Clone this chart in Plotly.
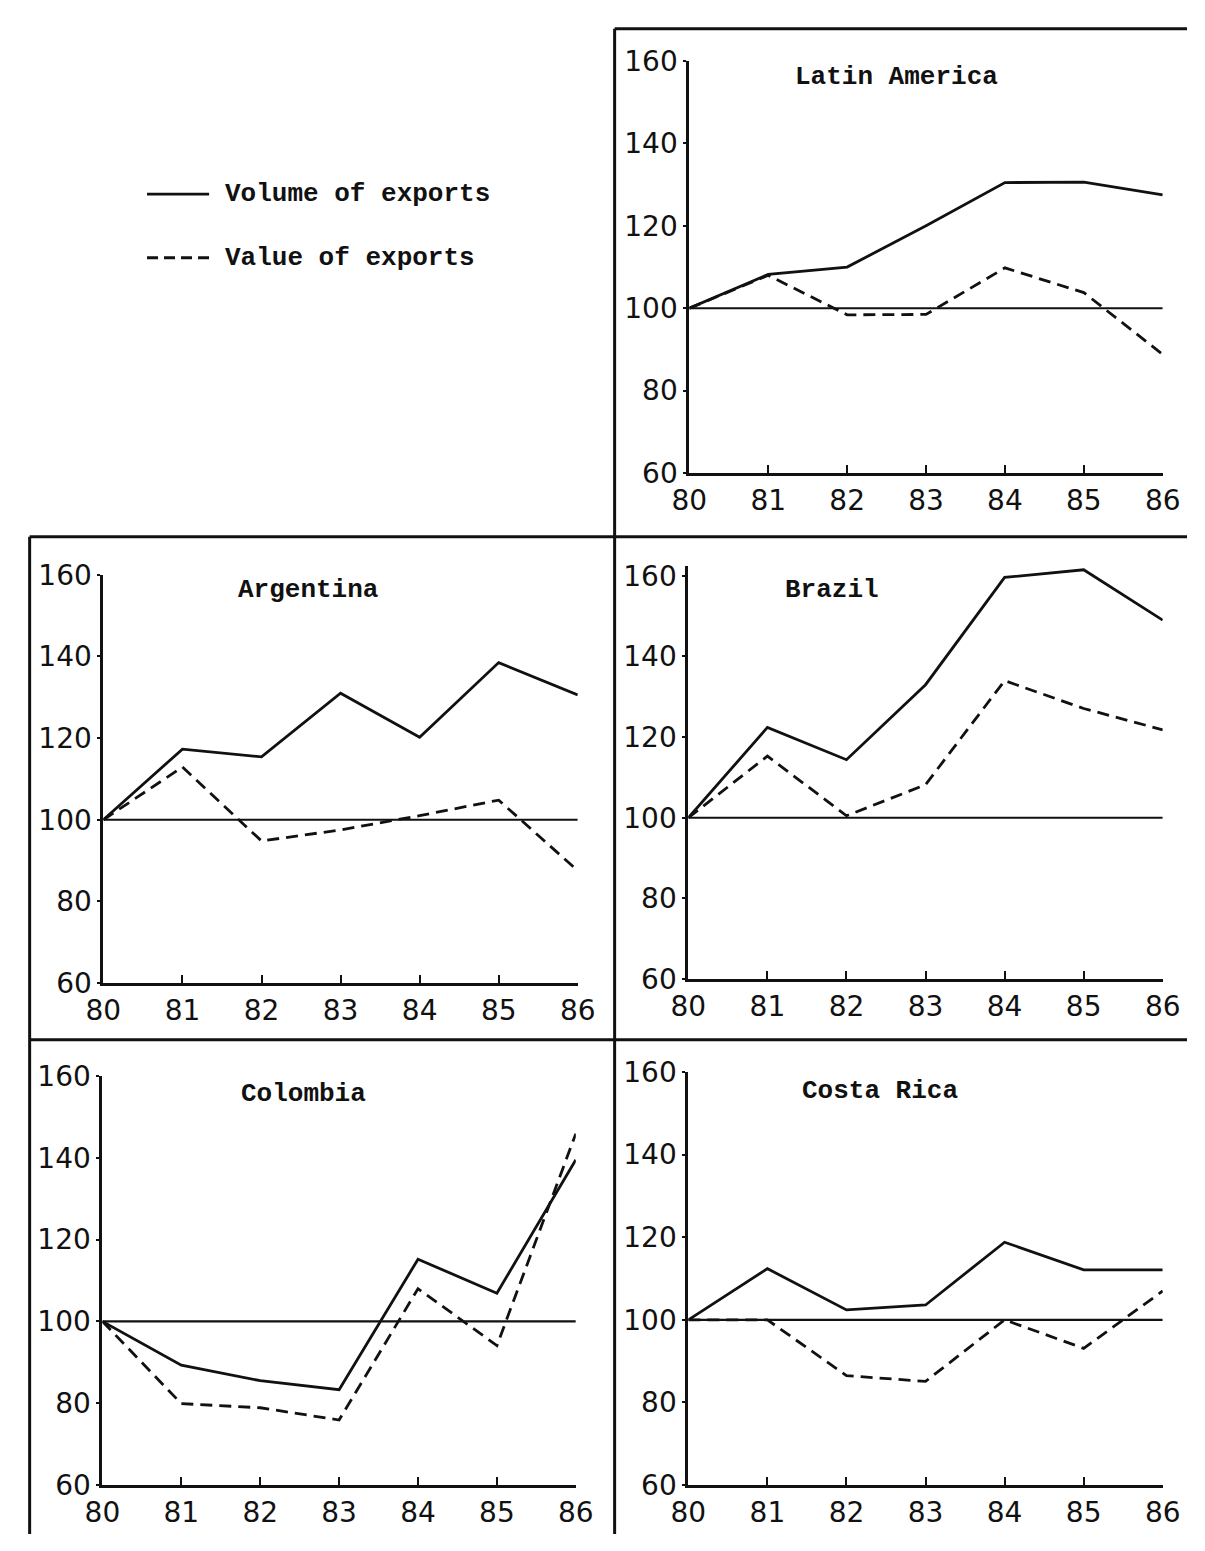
import plotly.graph_objects as go

# Export indices, 1980 = 100
years = [80, 81, 82, 83, 84, 85, 86]
year_labels = ["80", "81", "82", "83", "84", "85", "86"]
index_ticks = [60, 80, 100, 120, 140, 160]
index_labels = ["60", "80", "100", "120", "140", "160"]
base_index = 100

latin_america_volume = [100, 108.2, 110.0, 120.0, 130.5, 130.6, 127.5]
latin_america_value = [100, 108.0, 98.4, 98.5, 109.8, 103.8, 88.8]
argentina_volume = [100, 117.3, 115.4, 131.0, 120.2, 138.5, 130.6]
argentina_value = [100, 112.9, 94.8, 97.5, 101.0, 104.8, 87.5]
brazil_volume = [100, 122.4, 114.4, 133.0, 159.6, 161.5, 149.0]
brazil_value = [100, 115.3, 100.5, 108.2, 134.0, 127.1, 121.8]
colombia_volume = [100, 89.3, 85.5, 83.3, 115.2, 106.9, 139.5]
colombia_value = [100, 79.9, 78.9, 75.9, 108.0, 94.1, 145.9]
costa_rica_volume = [100, 112.4, 102.4, 103.6, 118.8, 112.1, 112.1]
costa_rica_value = [100, 100.0, 86.5, 85.1, 100.0, 93.1, 107.0]

legend_labels = ["Volume of exports", "Value of exports"]

W, H = 1205, 1551
INK = "#111111"
TICK_FONT = dict(family="DejaVu Sans", size=28, color=INK)
TEXT_FONT = dict(family="Liberation Mono", size=26, color=INK, weight="bold")
DASH = "12px,7px"


def px_x(p):
    return p / W


def px_y(p):
    return 1 - p / H


# name, volume, value, plot box in pixels (left, right, y of 160, y of 60),
# top of the index range, title anchor (year, index)
panels = [
    ("Latin America", latin_america_volume, latin_america_value, (692, 1180, 46, 467), 160, (82.63, 156.2)),
    ("Argentina", argentina_volume, argentina_value, (88, 577, 571, 988), 160, (82.59, 156.4)),
    ("Brazil", brazil_volume, brazil_value, (691, 1180, 572, 984), 162.5, (81.82, 156.5)),
    ("Colombia", colombia_volume, colombia_value, (87, 575, 1083, 1501), 160, (82.55, 155.7)),
    ("Costa Rica", costa_rica_volume, costa_rica_value, (691, 1180, 1079, 1501), 160, (82.42, 155.3)),
]

fig = go.Figure()
layout = {}
annotations = []

for i, (name, volume, value, box, y_top, title_at) in enumerate(panels, start=1):
    suffix = "" if i == 1 else str(i)
    xa, ya = "x" + suffix, "y" + suffix
    left, right, y160, y60 = box
    per_unit = (y60 - y160) / 100.0
    top = y160 - (y_top - 160) * per_unit

    fig.add_trace(go.Scatter(x=[years[0], years[-1]], y=[base_index, base_index],
                             mode="lines", line=dict(color=INK, width=2.2),
                             xaxis=xa, yaxis=ya, hoverinfo="skip", showlegend=False))
    fig.add_trace(go.Scatter(x=years, y=volume, mode="lines", name=legend_labels[0],
                             line=dict(color=INK, width=2.8),
                             xaxis=xa, yaxis=ya, showlegend=False))
    fig.add_trace(go.Scatter(x=years, y=value, mode="lines", name=legend_labels[1],
                             line=dict(color=INK, width=2.8, dash=DASH),
                             xaxis=xa, yaxis=ya, showlegend=False))

    layout["xaxis" + suffix] = dict(
        domain=[px_x(left), px_x(right)], anchor=ya, range=[80, 86],
        tickmode="array", tickvals=years, ticktext=year_labels,
        showline=True, linecolor=INK, linewidth=3, mirror=False,
        ticks="inside", ticklen=8, tickwidth=2, tickcolor=INK,
        showgrid=False, zeroline=False, tickfont=TICK_FONT, fixedrange=True,
    )
    layout["yaxis" + suffix] = dict(
        domain=[px_y(y60), px_y(top)], anchor=xa, range=[60, y_top],
        tickmode="array", tickvals=index_ticks, ticktext=index_labels,
        showline=True, linecolor=INK, linewidth=3,
        ticks="outside", ticklen=3, tickwidth=2, tickcolor=INK,
        showgrid=False, zeroline=False, tickfont=TICK_FONT, fixedrange=True,
    )
    annotations.append(dict(text=name, x=title_at[0], y=title_at[1], xref=xa, yref=ya,
                            showarrow=False, font=TEXT_FONT, xanchor="center", yanchor="middle"))

# Legend drawn as a key in the empty top-left corner
shapes = [
    dict(type="line", xref="paper", yref="paper", x0=px_x(133), x1=px_x(197),
         y0=px_y(182), y1=px_y(182), line=dict(color=INK, width=2.8)),
    dict(type="line", xref="paper", yref="paper", x0=px_x(133), x1=px_x(197),
         y0=px_y(247), y1=px_y(247), line=dict(color=INK, width=2.8, dash="11px,6px")),
]
for label, yp in zip(legend_labels, [182, 247]):
    annotations.append(dict(text=label, x=px_x(211), y=px_y(yp), xref="paper", yref="paper",
                            showarrow=False, font=TEXT_FONT, xanchor="left", yanchor="middle"))

# Panel frames
frame = dict(color=INK, width=3)
for x0, y0, x1, y1 in [
    (615, 13, 1205, 13),     # top of the Latin America box
    (615, 13, 615, 1551),    # central divider
    (12, 532, 1205, 532),    # between first and second rows
    (12, 532, 12, 1551),     # left edge
    (12, 1046, 1205, 1046),  # between second and third rows
]:
    shapes.append(dict(type="line", xref="paper", yref="paper",
                       x0=px_x(x0), x1=px_x(x1), y0=px_y(y0), y1=px_y(y1), line=frame))

fig.update_layout(
    width=W, height=H, margin=dict(l=0, r=0, t=0, b=0),
    paper_bgcolor="white", plot_bgcolor="white",
    showlegend=False, annotations=annotations, shapes=shapes,
    **layout,
)

# The page itself gets no margin so the figure fills the window exactly
fig.write_html(
    "out.html",
    post_script="document.body.style.margin='0';document.body.style.overflow='hidden';",
)
